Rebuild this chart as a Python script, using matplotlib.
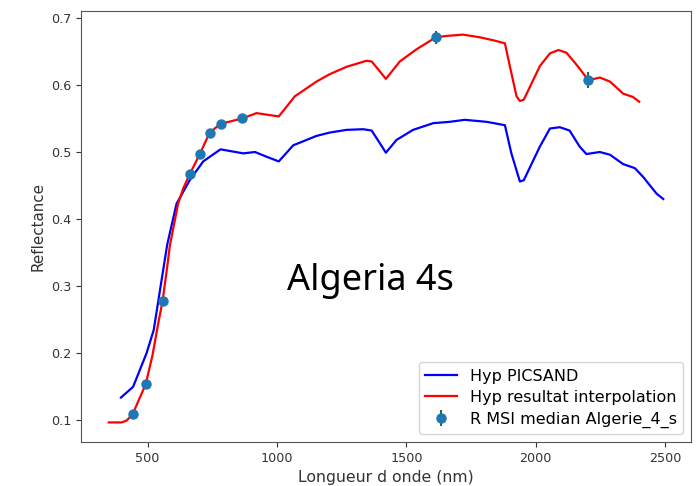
import matplotlib
matplotlib.use("Agg")
import matplotlib.pyplot as plt

# Hyperspectral PICSAND reference (blue)
picsand_wl = [397, 444, 496, 524, 548, 576, 612, 663, 715, 782, 870, 915, 960, 1007,
              1063, 1153, 1204, 1269, 1333, 1366, 1398, 1421, 1462, 1526, 1604, 1668,
              1726, 1810, 1881, 1906, 1939, 1954, 2016, 2055, 2093, 2131, 2170, 2196,
              2248, 2287, 2338, 2383, 2415, 2467, 2493]
picsand_refl = [0.134, 0.150, 0.200, 0.235, 0.294, 0.362, 0.423, 0.458, 0.486, 0.504,
                0.498, 0.500, 0.493, 0.486, 0.510, 0.524, 0.529, 0.533, 0.534, 0.532,
                0.513, 0.499, 0.518, 0.533, 0.543, 0.545, 0.548, 0.545, 0.540, 0.498,
                0.456, 0.458, 0.508, 0.535, 0.537, 0.532, 0.508, 0.497, 0.500, 0.496,
                0.482, 0.476, 0.463, 0.438, 0.430]

# Interpolated hyperspectral result (red)
interp_wl = [350, 400, 420, 443, 493, 519, 541, 558, 576, 586, 618, 638, 663, 702, 740,
             782, 866, 921, 1007, 1069, 1153, 1204, 1269, 1346, 1366, 1398, 1421, 1475,
             1539, 1614, 1655, 1719, 1784, 1842, 1881, 1900, 1926, 1939, 1954, 2016,
             2055, 2088, 2119, 2158, 2204, 2248, 2287, 2338, 2376, 2400]
interp_refl = [0.097, 0.097, 0.100, 0.110, 0.154, 0.197, 0.244, 0.278, 0.329, 0.360,
               0.423, 0.446, 0.467, 0.497, 0.529, 0.542, 0.550, 0.558, 0.553, 0.583,
               0.605, 0.616, 0.627, 0.636, 0.635, 0.620, 0.609, 0.635, 0.653, 0.671,
               0.673, 0.675, 0.671, 0.666, 0.662, 0.628, 0.583, 0.576, 0.578, 0.628,
               0.647, 0.652, 0.648, 0.630, 0.607, 0.611, 0.605, 0.587, 0.582, 0.575]

# MSI median reflectance per band
msi_wl = [443, 493, 560, 663, 702, 740, 782, 866, 1614, 2204]
msi_refl = [0.110, 0.154, 0.278, 0.467, 0.497, 0.529, 0.542, 0.550, 0.671, 0.607]
msi_err = [0.002, 0.002, 0.002, 0.003, 0.003, 0.003, 0.003, 0.003, 0.010, 0.012]

fig = plt.figure(figsize=(6.96, 4.86), dpi=100)
ax = fig.add_axes([0.1164, 0.0905, 0.8764, 0.8869])

ax.plot(picsand_wl, picsand_refl, color="blue", lw=1.6, label="Hyp PICSAND")
ax.plot(interp_wl, interp_refl, color="red", lw=1.6, label="Hyp resultat interpolation")
ax.errorbar(msi_wl, msi_refl, yerr=msi_err, fmt="o", color="#1f77b4",
            ecolor="#2a6e3f", elinewidth=1.5, ms=6.5, label="R MSI median Algerie_4_s")

ax.set_xticks([500, 1000, 1500, 2000, 2500])
ax.set_yticks([0.1, 0.2, 0.3, 0.4, 0.5, 0.6, 0.7])
ax.tick_params(labelsize=9.2, colors="#333333")
for sp in ax.spines.values():
    sp.set_color("#555555")
ax.set_xlabel("Longueur d onde (nm)", fontsize=11.3, color="#333333")
ax.set_ylabel("Reflectance", fontsize=10.9, color="#333333")
ax.legend(loc="lower right", fontsize=11.5, labelspacing=0.4)

fig.text(0.412, 0.403, "Algeria 4s", family="Noto Sans", fontsize=26,
         ha="left", va="baseline")

fig.savefig("out.png", dpi=100)
